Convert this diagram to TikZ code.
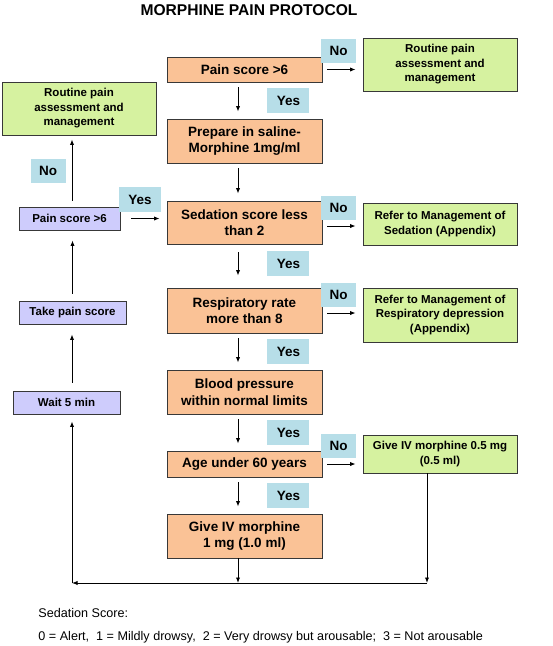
\documentclass[tikz,border=0pt]{standalone}
\usepackage{fontspec}
\setmainfont{Liberation Sans}
\usetikzlibrary{positioning,arrows.meta,shadows}

\definecolor{checkOrange}{RGB}{250,194,150}
\definecolor{actionGreen}{RGB}{214,242,160}
\definecolor{loopPurple}{RGB}{206,204,252}
\definecolor{tagBlue}{RGB}{183,222,232}

\begin{document}
\begin{tikzpicture}[x=1pt, y=-1pt, ->, >={Latex[length=5.5pt,width=4.2pt]}, line width=0.9pt,
	main node/.style={rectangle, draw=black!78, line width=0.75pt, align=center, inner sep=0pt, drop shadow={shadow xshift=1.2pt, shadow yshift=-1.2pt, fill=black!18}},
	check node/.style={main node, fill=checkOrange, minimum width=155pt, font=\fontsize{13.5}{16.5}\selectfont\bfseries},
	action node/.style={main node, fill=actionGreen, minimum width=154pt, font=\fontsize{11.5}{14.5}\selectfont\bfseries},
	loop node/.style={main node, fill=loopPurple, minimum height=23pt, font=\fontsize{11.5}{14}\selectfont\bfseries},
	yes tag/.style={fill=tagBlue, minimum width=42pt, minimum height=25pt, inner sep=0pt, font=\fontsize{13.5}{16}\selectfont\bfseries},
	no tag/.style={yes tag, minimum width=35pt, minimum height=24pt},
	down/.style={shorten <=5pt, shorten >=7pt},
	side/.style={shorten <=5pt, shorten >=7pt}]

	\useasboundingbox (0,0) rectangle (553,646);

	\node[font=\fontsize{15.6}{18}\selectfont\bfseries, anchor=base] (title) at (249,15) {MORPHINE PAIN PROTOCOL};

	% main column
	\node[check node, minimum height=25pt] (pain) at (244.5,69.5) {Pain score >6};
	\node[check node, minimum height=44pt] (prepare) at (244.5,141) {Prepare in saline-\\Morphine 1mg/ml};
	\node[check node, minimum height=43pt] (sedation) at (244.5,222.5) {Sedation score less\\than 2};
	\node[check node, minimum height=45pt] (resp) at (244.5,310.5) {Respiratory rate\\more than 8};
	\node[check node, minimum height=44pt] (bp) at (244.5,392) {Blood pressure\\within normal limits};
	\node[check node, minimum height=26pt] (age) at (244.5,464) {Age under 60 years};
	\node[check node, minimum height=44pt] (give) at (244.5,536) {Give IV morphine\\1 mg (1.0 ml)};

	% right column
	\node[action node, minimum height=53pt] (routine) at (440,64.5) {Routine pain\\assessment and\\management};
	\node[action node, minimum height=42pt] (refsed) at (440,224) {Refer to Management of\\Sedation (Appendix)};
	\node[action node, minimum height=54pt] (refresp) at (440,315) {Refer to Management of\\Respiratory depression\\(Appendix)};
	\node[action node, minimum height=38pt] (half) at (440,454) {Give IV morphine 0.5 mg\\(0.5 ml)};

	% left loop
	\node[action node, minimum height=53pt] (routineL) at (79,108.5) {Routine pain\\assessment and\\management};
	\node[loop node, minimum width=101pt] (rescore) at (69.5,218.5) {Pain score >6};
	\node[loop node, minimum width=107pt] (take) at (72.5,312.5) {Take pain score};
	\node[loop node, minimum width=107pt] (wait) at (66.5,402.5) {Wait 5 min};

	\coordinate (joinR) at (427,583);
	\coordinate (joinL) at (72,583);

	% Yes arrows down the main column
	\draw[down] ([xshift=-6.5pt]pain.south) -- ([xshift=-6.5pt]prepare.north) node[yes tag, midway, right=29pt] {Yes};
	\draw[down] ([xshift=-6.5pt]prepare.south) -- ([xshift=-6.5pt]sedation.north);
	\draw[down, shorten <=8pt, shorten >=12pt] ([xshift=-6.5pt]sedation.south) -- ([xshift=-6.5pt]resp.north) node[yes tag, midway, right=29pt, yshift=2.5pt] {Yes};
	\draw[down] ([xshift=-6.5pt]resp.south) -- ([xshift=-6.5pt]bp.north) node[yes tag, midway, right=29pt] {Yes};
	\draw[down] ([xshift=-6.5pt]bp.south) -- ([xshift=-6.5pt]age.north) node[yes tag, midway, right=29pt] {Yes};
	\draw[down] ([xshift=-6.5pt]age.south) -- ([xshift=-6.5pt]give.north) node[yes tag, midway, right=29pt] {Yes};

	% No arrows to the right
	\draw[side] (pain.east) -- (pain.east -| routine.west) node[no tag, midway, above=6pt, xshift=-4pt] {No};
	\draw[side] ([yshift=-3.5pt]sedation.east) -- ([yshift=-3.5pt]sedation.east -| refsed.west) node[no tag, midway, above=6pt, xshift=-4pt] {No};
	\draw[side] ([yshift=-2.5pt]resp.east) -- ([yshift=-2.5pt]resp.east -| refresp.west) node[no tag, midway, above=6pt, xshift=-4pt] {No};
	\draw[side] (age.east) -- (age.east -| half.west) node[no tag, midway, above=6pt, xshift=-4pt] {No};

	% left loop
	\draw[shorten <=6pt, shorten >=4pt] ([xshift=2.5pt]rescore.north) -- ([xshift=2.5pt]rescore.north |- routineL.south) node[no tag, midway, left=6pt] {No};
	\draw[shorten <=11pt, shorten >=7pt] (rescore.east) -- (rescore.east -| sedation.west) node[yes tag, midway, above=6pt, xshift=-3.5pt] {Yes};
	\draw[shorten <=7pt, shorten >=10pt] (take.north) -- (take.north |- rescore.south);
	\draw[shorten <=8pt, shorten >=10pt] ([xshift=5.5pt]wait.north) -- ([xshift=5.5pt]wait.north |- take.south);

	% back to the start
	\draw (half.south -| joinR) -- (joinR);
	\draw ([xshift=-6.5pt]give.south) -- ([xshift=-6.5pt]give.south |- joinR);
	\draw (joinR) -- (joinL);
	\draw[shorten >=7pt] (joinL) -- (joinL |- wait.south);

	\node[anchor=base west, inner sep=0pt, font=\fontsize{12.6}{15}\selectfont] (legendhead) at (38,617) {Sedation Score:};
	\node[anchor=base west, inner sep=0pt, font=\fontsize{12.6}{15}\selectfont] (legend) at (38,640.5) {0 = Alert,\ \ 1 = Mildly drowsy,\ \ 2 = Very drowsy but arousable;\ \ 3 = Not arousable};

\end{tikzpicture}
\end{document}
